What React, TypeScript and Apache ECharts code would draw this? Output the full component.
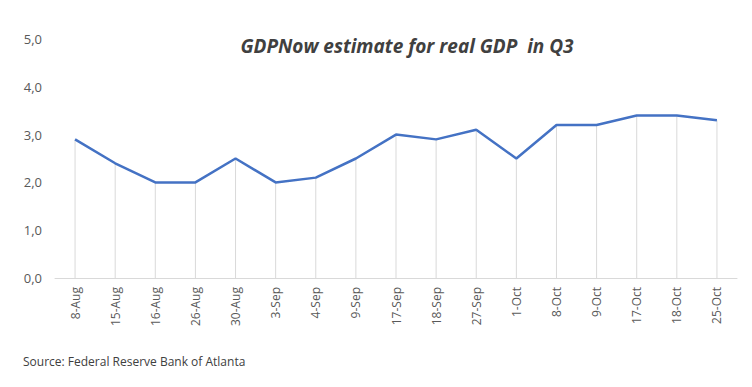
import React, { useEffect, useRef } from "react";
import * as echarts from "echarts";

const categories = ["8-Aug", "15-Aug", "16-Aug", "26-Aug", "30-Aug", "3-Sep", "4-Sep", "9-Sep", "17-Sep", "18-Sep", "27-Sep", "1-Oct", "8-Oct", "9-Oct", "17-Oct", "18-Oct", "25-Oct"];
const gdpNow = [2.9, 2.4, 2.0, 2.0, 2.5, 2.0, 2.1, 2.5, 3.0, 2.9, 3.1, 2.5, 3.2, 3.2, 3.4, 3.4, 3.3];
const titleText = "GDPNow estimate for real GDP  in Q3";
const sourceText = "Source: Federal Reserve Bank of Atlanta";

export default function App() {
  const ref = useRef<HTMLDivElement>(null);
  useEffect(() => {
    if (!ref.current) return;
    const chart = echarts.init(ref.current, null, { renderer: "svg" });
    chart.setOption({
      animation: false,
      backgroundColor: "#ffffff",
      title: {
        text: titleText,
        left: 402,
        textAlign: "center",
        top: 31,
        textStyle: {
          fontFamily: "Open Sans",
          fontStyle: "italic",
          fontWeight: "bold",
          fontSize: 19,
          color: "#404040",
        },
      },
      graphic: [
        {
          type: "text",
          left: 23,
          top: 355,
          style: {
            text: sourceText,
            font: "12px 'Open Sans'",
            fill: "#404040",
          },
        },
      ],
      grid: { left: 55, right: 15, top: 39, bottom: 109, containLabel: false },
      xAxis: {
        type: "category",
        data: categories,
        boundaryGap: true,
        axisLine: { show: true, lineStyle: { color: "#d9d9d9", width: 1 } },
        axisTick: { show: false },
        axisLabel: {
          rotate: 90,
          interval: 0,
          margin: 9,
          fontFamily: "Open Sans",
          fontSize: 12,
          color: "#595959",
        },
        splitLine: { show: false },
      },
      yAxis: {
        type: "value",
        min: 0,
        max: 5,
        interval: 1,
        axisLine: { show: false },
        axisTick: { show: false },
        splitLine: { show: false },
        axisLabel: {
          margin: 13,
          fontFamily: "Open Sans",
          fontSize: 13,
          color: "#595959",
          formatter: (v: number) => v.toFixed(1).replace(".", ","),
        },
      },
      series: [
        {
          type: "bar",
          data: gdpNow,
          barWidth: 1,
          itemStyle: { color: "#d9d9d9" },
          silent: true,
          z: 1,
        },
        {
          type: "line",
          data: gdpNow,
          showSymbol: false,
          symbol: "none",
          lineStyle: { color: "#4472c4", width: 2.5 },
          z: 3,
        },
      ],
    });
    return () => chart.dispose();
  }, []);
  return <div ref={ref} style={{ width: 752, height: 387, position: "absolute", left: 0, top: 0 }} />;
}
